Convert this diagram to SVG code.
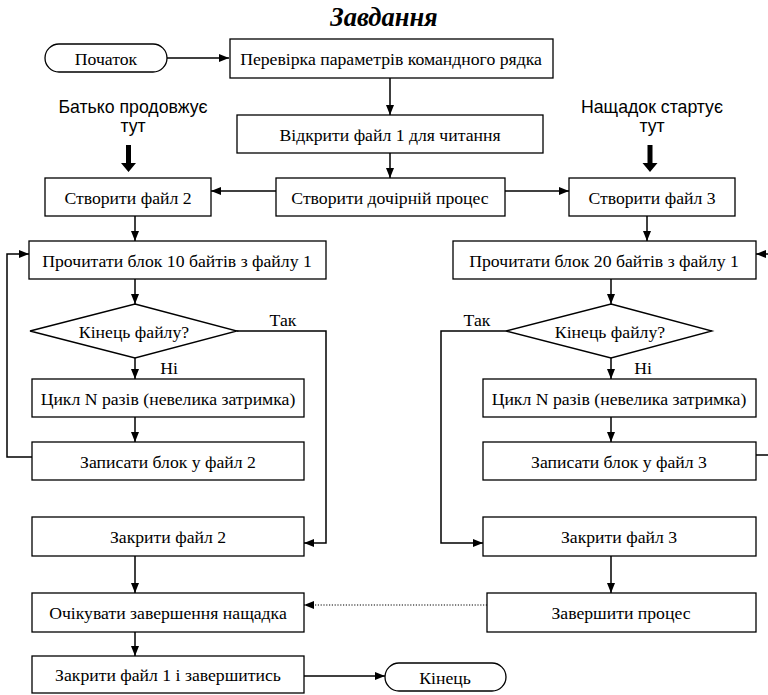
<svg xmlns="http://www.w3.org/2000/svg" width="768" height="695" viewBox="0 0 768 695">
<style>
.b{fill:#fff;stroke:#000;stroke-width:1.3}
.t{font-family:"Liberation Serif","Times New Roman",serif;font-size:17.7px;fill:#000;text-anchor:middle}
.s{font-family:"Liberation Sans",Arial,sans-serif;font-size:17.7px;fill:#000;text-anchor:middle}
.c{fill:none;stroke:#000;stroke-width:1.5}
.d{fill:none;stroke:#000;stroke-width:1.2;stroke-dasharray:1.2 1.6}
</style>
<defs>
<marker id="ah" markerUnits="userSpaceOnUse" markerWidth="11" markerHeight="9" refX="10" refY="4" orient="auto">
<path d="M0,0 L10,4 L0,8 z" fill="#000"/>
</marker>
</defs>
<rect width="768" height="695" fill="#fff"/>
<text x="384" y="26" font-family="Liberation Serif, Times New Roman, serif" font-size="26.5" font-weight="bold" font-style="italic" text-anchor="middle">Завдання</text>

<g id="start"><rect class="b" x="45" y="44" width="122" height="28" rx="14"/><text class="t" x="106" y="65">Початок</text></g>
<g id="check"><rect class="b" x="230" y="39" width="323" height="39"/><text class="t" x="391" y="65">Перевірка параметрів командного рядка</text></g>
<g id="open"><rect class="b" x="237" y="115" width="306" height="38"/><text class="t" x="390" y="140.5">Відкрити файл 1 для читання</text></g>
<g id="fork"><rect class="b" x="276" y="178" width="229" height="38"/><text class="t" x="390" y="203.5">Створити дочірній процес</text></g>
<g id="create2"><rect class="b" x="45" y="178" width="166" height="38"/><text class="t" x="128" y="203.5">Створити файл 2</text></g>
<g id="create3"><rect class="b" x="569" y="178" width="166" height="38"/><text class="t" x="652" y="203.5">Створити файл 3</text></g>

<g id="parentLabel"><text class="s" x="133" y="113">Батько продовжує</text><text class="s" x="133" y="132">тут</text>
<polygon points="126,145 131,145 131,163 136,163 128.5,172 121,163 126,163" fill="#000"/></g>
<g id="childLabel"><text class="s" x="652" y="113">Нащадок стартує</text><text class="s" x="652" y="132">тут</text>
<polygon points="647.5,145 652.5,145 652.5,163 657.5,163 650,172 642.5,163 647.5,163" fill="#000"/></g>

<g id="read10"><rect class="b" x="29" y="241" width="297" height="38"/><text class="t" x="177" y="266.5">Прочитати блок 10 байтів з файлу 1</text></g>
<g id="eof1"><polygon class="b" points="135,304 237,331 135,358 30,331"/><text class="t" x="134" y="337.5">Кінець файлу?</text></g>
<g id="loop1"><rect class="b" x="32" y="379" width="272" height="38"/><text class="t" x="168" y="404.5">Цикл  N  разів (невелика затримка)</text></g>
<g id="write2"><rect class="b" x="32" y="442" width="272" height="38"/><text class="t" x="168" y="467.5">Записати блок у файл 2</text></g>
<g id="close2"><rect class="b" x="32" y="517" width="272" height="39"/><text class="t" x="168" y="543">Закрити файл 2</text></g>
<g id="wait"><rect class="b" x="32" y="593" width="272" height="39"/><text class="t" x="168" y="619">Очікувати завершення нащадка</text></g>
<g id="close1"><rect class="b" x="32" y="656" width="272" height="37"/><text class="t" x="168" y="681">Закрити файл 1 і завершитись</text></g>
<g id="end"><rect class="b" x="385" y="663" width="121" height="28" rx="14"/><text class="t" x="445" y="683.5">Кінець</text></g>

<g id="read20"><rect class="b" x="453" y="241" width="303" height="38"/><text class="t" x="604" y="266.5">Прочитати блок 20 байтів з файлу 1</text></g>
<g id="eof2"><polygon class="b" points="611,304 712,331 611,358 506,331"/><text class="t" x="610" y="337.5">Кінець файлу?</text></g>
<g id="loop2"><rect class="b" x="483" y="379" width="273" height="38"/><text class="t" x="619" y="404.5">Цикл  N  разів (невелика затримка)</text></g>
<g id="write3"><rect class="b" x="483" y="442" width="273" height="38"/><text class="t" x="619" y="467.5">Записати блок у файл 3</text></g>
<g id="close3"><rect class="b" x="483" y="517" width="273" height="39"/><text class="t" x="619" y="543">Закрити файл 3</text></g>
<g id="finish"><rect class="b" x="487" y="593" width="269" height="39"/><text class="t" x="621" y="619">Завершити процес</text></g>

<g id="labels">
<text class="t" x="283" y="326">Так</text>
<text class="t" x="169" y="374">Ні</text>
<text class="t" x="477" y="326">Так</text>
<text class="t" x="643" y="374">Ні</text>
</g>

<g id="connectors">
<path class="c" d="M167 58 H229" marker-end="url(#ah)"/>
<path class="c" d="M390 78 V115" marker-end="url(#ah)"/>
<path class="c" d="M390 153 V178" marker-end="url(#ah)"/>
<path class="c" d="M276 191 H211" marker-end="url(#ah)"/>
<path class="c" d="M505 191 H569" marker-end="url(#ah)"/>
<path class="c" d="M135 216 V241" marker-end="url(#ah)"/>
<path class="c" d="M135 279 V304" marker-end="url(#ah)"/>
<path class="c" d="M135 358 V379" marker-end="url(#ah)"/>
<path class="c" d="M135 417 V442" marker-end="url(#ah)"/>
<path class="c" d="M32 457 H7 V254 H29" marker-end="url(#ah)"/>
<path class="c" d="M237 331 H326 V543 H304" marker-end="url(#ah)"/>
<path class="c" d="M135 556 V593" marker-end="url(#ah)"/>
<path class="c" d="M135 632 V656" marker-end="url(#ah)"/>
<path class="c" d="M304 676 H385" marker-end="url(#ah)"/>
<path class="c" d="M647 216 V241" marker-end="url(#ah)"/>
<path class="c" d="M611 279 V304" marker-end="url(#ah)"/>
<path class="c" d="M611 358 V379" marker-end="url(#ah)"/>
<path class="c" d="M611 417 V442" marker-end="url(#ah)"/>
<path class="c" d="M756 455 H775 V254 H756" marker-end="url(#ah)"/>
<path class="c" d="M506 331 H441 V543 H483" marker-end="url(#ah)"/>
<path class="c" d="M611 556 V593" marker-end="url(#ah)"/>
<path class="d" d="M487 605 H304" marker-end="url(#ah)"/>
</g>
</svg>
